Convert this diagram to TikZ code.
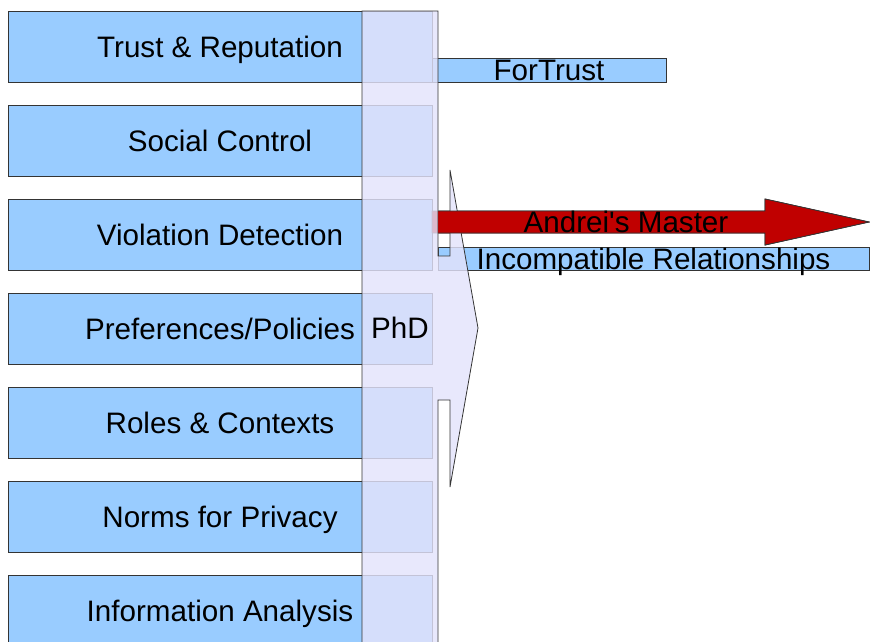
\documentclass[tikz,border=0pt]{standalone}
\usepackage{fontspec}
\setmainfont{Liberation Sans}
\usetikzlibrary{calc}

\definecolor{boxblue}{RGB}{153,204,255}
\definecolor{phdfill}{RGB}{227,227,251}
\definecolor{masterred}{RGB}{192,0,0}
\definecolor{edgegray}{RGB}{52,52,52}

\newcommand{\masterarrow}{(432,211) -- (765,211) -- (765,199) -- (869,222)
    -- (765,245) -- (765,233) -- (432,233) -- cycle}

\begin{document}
\begin{tikzpicture}[x=1pt,y=-1pt,
    tag/.style={inner sep=0pt,text height=21pt,text depth=0pt,
      font=\fontsize{29.6}{35}\selectfont},
    topic/.style={tag,draw=edgegray,fill=boxblue,line width=0.8pt,
      minimum width=424pt,minimum height=71pt},
    bar/.style={draw=edgegray,fill=boxblue,line width=0.8pt},
    master/.style={fill=masterred,draw=edgegray,line width=0.8pt},
    phd/.style={draw=edgegray,fill=phdfill,fill opacity=0.82,line width=0.8pt}]

                \useasboundingbox (0,0) rectangle (870,641);

                % research topics, top to bottom
                \foreach \t [count=\i from 0] in {Trust \& Reputation,Social Control,
                    Violation Detection,Preferences/Policies,Roles \& Contexts,
                    Norms for Privacy,Information Analysis}
                    \node[topic] (topic\i) at (220,46.5+94*\i) {\t};

                % projects
                \coordinate (F1) at (432,58);
                \coordinate (F2) at (666,82);
                \draw[bar] (F1) rectangle (F2);

                \coordinate (I1) at (438,247);
                \coordinate (I2) at (869,270);
                \draw[bar] (I1) rectangle (I2);

                \draw[master] \masterarrow;

                % the PhD arrow over the topics
                \draw[phd] (362,11) -- (438,11) -- (438,256) -- (450,256)
                    -- (450,170) -- (478,328) -- (450,487) -- (450,400)
                    -- (438,400) -- (438,660) -- (362,660) -- cycle;

                % the master arrow sits on top right of the shaft
                \begin{scope}
                    \clip (438.4,0) rectangle (870,641);
                    \draw[master] \masterarrow;
                \end{scope}

                \node[tag] (fortrust) at ($(F1)!0.5!(F2)$) {ForTrust};
                \node[tag] (incompat) at ($(I1)!0.5!(I2)$) {Incompatible Relationships};
                \node[tag] (masterlabel) at (626,222) {Andrei\textquotesingle s Master};
                \node[tag] (phdlabel) at (400,328) {PhD};
            \end{tikzpicture}
\end{document}
